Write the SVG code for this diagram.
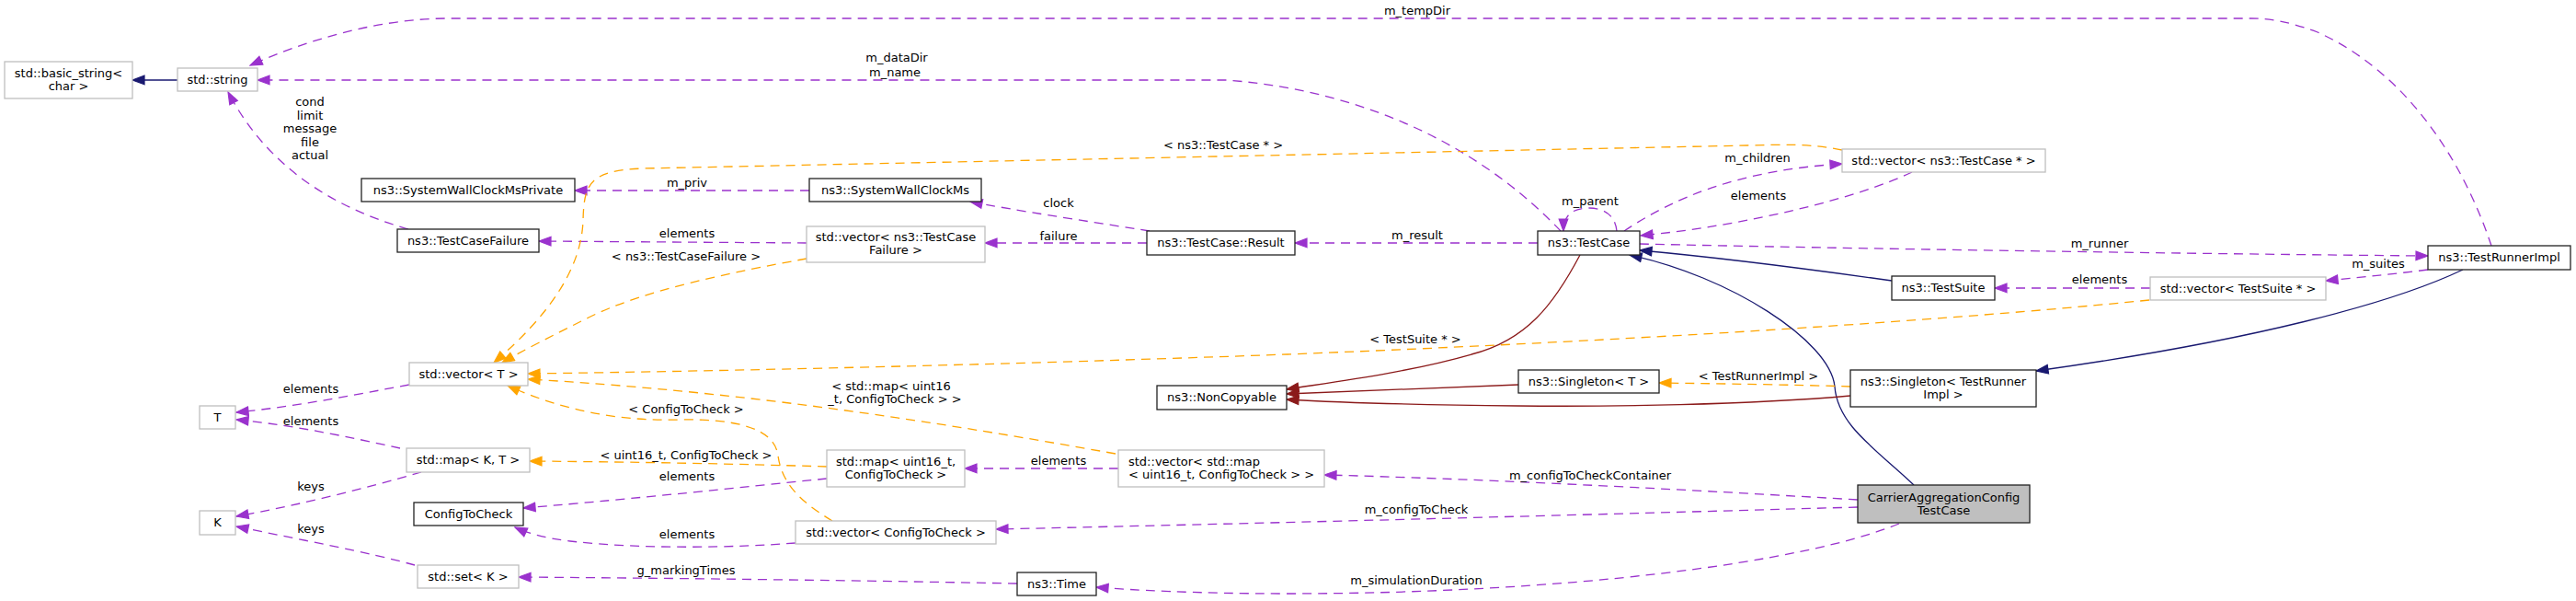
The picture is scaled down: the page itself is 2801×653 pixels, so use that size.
<svg xmlns="http://www.w3.org/2000/svg" width="2801" height="653" viewBox="0 0 2801 653">
<style>
text{font-family:"DejaVu Sans",sans-serif;font-size:13px;fill:#000;text-anchor:middle}
.nb rect{fill:#fff;stroke:#222;stroke-width:1.3}
.ng rect{fill:#fff;stroke:#bfbfbf;stroke-width:1.3}
.nm rect{fill:#bfbfbf;stroke:#222;stroke-width:1.3}
.e path{fill:none;stroke-width:1.3}
.p{stroke:#9a32cd;stroke-dasharray:10,7;marker-end:url(#ap)}
.o{stroke:#ffa500;stroke-dasharray:10,7;marker-end:url(#ao)}
.n{stroke:#191970;marker-end:url(#an)}
.r{stroke:#8b1a1a;marker-end:url(#ar)}
.lt{text-anchor:start}
</style>
<defs>
<marker id="ap" markerUnits="userSpaceOnUse" markerWidth="15" markerHeight="12" viewBox="0 0 15 12" refX="14" refY="6" orient="auto"><path d="M1,1.2 L14,6 L1,10.8 z" fill="#9a32cd" stroke="#9a32cd" stroke-width="1.2"/></marker>
<marker id="ao" markerUnits="userSpaceOnUse" markerWidth="15" markerHeight="12" viewBox="0 0 15 12" refX="14" refY="6" orient="auto"><path d="M1,1.2 L14,6 L1,10.8 z" fill="#ffa500" stroke="#ffa500" stroke-width="1.2"/></marker>
<marker id="an" markerUnits="userSpaceOnUse" markerWidth="15" markerHeight="12" viewBox="0 0 15 12" refX="14" refY="6" orient="auto"><path d="M1,1.2 L14,6 L1,10.8 z" fill="#191970" stroke="#191970" stroke-width="1.2"/></marker>
<marker id="ar" markerUnits="userSpaceOnUse" markerWidth="15" markerHeight="12" viewBox="0 0 15 12" refX="14" refY="6" orient="auto"><path d="M1,1.2 L14,6 L1,10.8 z" fill="#8b1a1a" stroke="#8b1a1a" stroke-width="1.2"/></marker>
</defs>
<rect width="2801" height="653" fill="#fff"/>
<g id="connectors" class="e">
<path class="n" d="M193,87 L144,87"/>
<path class="p" d="M2709,267 C2680,180 2620,80 2520,35 C2490,24 2470,20 2448,20 L487,20 C410,20 330,45 272,71"/>
<text x="1541" y="16">m_tempDir</text>
<path class="p" d="M1697,251 C1620,170 1500,100 1334,87 L280,87"/>
<text x="975" y="67">m_dataDir</text>
<text x="973" y="83">m_name</text>
<path class="p" d="M1758,251 C1756,232 1742,226 1728,226 C1712,226 1700,232 1700,251"/>
<text x="1729" y="223">m_parent</text>
<path class="p" d="M1766,251 C1820,215 1890,185 2003,178"/>
<text x="1911" y="176">m_children</text>
<path class="p" d="M2079,187 C2020,215 1900,245 1784,256"/>
<text x="1912" y="217">elements</text>
<path class="p" d="M1672,264 L1408,264"/>
<text x="1541" y="260">m_result</text>
<path class="p" d="M1783,265 C2000,270 2400,276 2640,278"/>
<text x="2283" y="269">m_runner</text>
<path class="p" d="M1250,251 C1180,240 1100,228 1055,219"/>
<text x="1151" y="225">clock</text>
<path class="p" d="M1247,264 L1071,264"/>
<text x="1151" y="261">failure</text>
<path class="p" d="M880,207 L625,207"/>
<text x="747" y="203">m_priv</text>
<path class="p" d="M877,264 L586,262"/>
<text x="747" y="258">elements</text>
<path class="p" d="M444,249 C360,225 290,180 248,100"/>
<text x="337" y="115">cond</text>
<text x="337" y="129.5">limit</text>
<text x="337" y="144">message</text>
<text x="337" y="158.5">file</text>
<text x="337" y="173">actual</text>
<path class="o" d="M2003,163 C1970,156 1940,157 1900,158 L700,183 C640,185 635,200 634,240 C632,290 600,340 537,394"/>
<text x="1330" y="162">&lt; ns3::TestCase * &gt;</text>
<path class="o" d="M877,281 C800,295 700,315 640,345 C600,365 570,380 546,394"/>
<text x="746" y="283">&lt; ns3::TestCaseFailure &gt;</text>
<path class="o" d="M2337,326 C2200,340 1900,365 1400,385 C1100,396 800,403 574,406"/>
<text x="1539" y="373">&lt; TestSuite * &gt;</text>
<path class="o" d="M1213,493 C1000,455 800,425 574,412"/>
<text x="969" y="424">&lt; std::map&lt; uint16</text>
<text x="973" y="438">_t, ConfigToCheck &gt; &gt;</text>
<path class="o" d="M905,566 C870,545 850,525 846,495 C842,465 800,455 740,456 C670,458 610,445 552,419"/>
<text x="746" y="449">&lt; ConfigToCheck &gt;</text>
<path class="o" d="M899,507 C800,504 700,502 576,501"/>
<text x="746" y="499">&lt; uint16_t, ConfigToCheck &gt;</text>
<path class="p" d="M899,520 C800,530 700,541 569,552"/>
<text x="747" y="522">elements</text>
<path class="p" d="M865,590 C800,595 700,597 620,588 C595,585 575,580 560,573"/>
<text x="747" y="585">elements</text>
<path class="p" d="M445,418 C380,430 320,442 257,448"/>
<text x="338" y="427">elements</text>
<path class="p" d="M435,487 C380,475 320,462 257,456"/>
<text x="338" y="462">elements</text>
<path class="p" d="M458,513 C400,530 320,550 257,561"/>
<text x="338" y="533">keys</text>
<path class="p" d="M451,614 C400,600 320,585 257,572"/>
<text x="338" y="579">keys</text>
<path class="p" d="M1106,634 C900,630 700,628 564,627"/>
<text x="746" y="624">g_markingTimes</text>
<path class="p" d="M1216,509 L1049,509"/>
<text x="1151" y="505">elements</text>
<path class="p" d="M2020,543 C1800,530 1600,520 1440,516"/>
<text x="1729" y="521">m_configToCheckContainer</text>
<path class="p" d="M2020,551 C1700,560 1400,568 1083,575"/>
<text x="1540" y="558">m_configToCheck</text>
<path class="p" d="M2065,569 C1960,612 1700,645 1400,645 C1300,645 1230,641 1192,638"/>
<text x="1540" y="635">m_simulationDuration</text>
<path class="n" d="M2057,305 C1950,290 1850,278 1783,272"/>
<path class="n" d="M2081,527 C2040,488 1998,462 1995,420 C1990,370 1880,300 1772,277"/>
<path class="n" d="M2678,293 C2600,330 2450,370 2214,403"/>
<path class="r" d="M1718,277 C1690,330 1660,370 1600,385 C1530,405 1450,415 1399,423"/>
<path class="r" d="M1651,418 L1399,428"/>
<path class="r" d="M2012,430 C1900,440 1750,442 1650,441 C1550,440 1450,437 1399,434"/>
<path class="o" d="M2012,420 C1950,418 1880,417 1804,416"/>
<text x="1912" y="413">&lt; TestRunnerImpl &gt;</text>
<path class="p" d="M2640,293 C2600,298 2570,301 2529,305"/>
<text x="2586" y="291">m_suites</text>
<path class="p" d="M2338,313 L2169,313"/>
<text x="2283" y="308">elements</text>
</g>
<g id="n_basic_string" class="ng"><rect x="5" y="67" width="139" height="40"/><text x="74.5" y="83.5">std::basic_string&lt;</text><text x="74.5" y="97.5">char &gt;</text></g>
<g id="n_string" class="ng"><rect x="193" y="74" width="87" height="25"/><text x="236.5" y="91">std::string</text></g>
<g id="n_swcm_private" class="nb"><rect x="393" y="194" width="232" height="25"/><text x="509" y="211">ns3::SystemWallClockMsPrivate</text></g>
<g id="n_testcasefailure" class="nb"><rect x="432" y="249" width="154" height="25"/><text x="509" y="266">ns3::TestCaseFailure</text></g>
<g id="n_swcm" class="nb"><rect x="880" y="194" width="187" height="25"/><text x="973.5" y="211">ns3::SystemWallClockMs</text></g>
<g id="n_vec_tcf" class="ng"><rect x="877" y="246" width="194" height="39"/><text x="974" y="261.5">std::vector&lt; ns3::TestCase</text><text x="974" y="276">Failure &gt;</text></g>
<g id="n_result" class="nb"><rect x="1247" y="251" width="161" height="26"/><text x="1327.5" y="268">ns3::TestCase::Result</text></g>
<g id="n_testcase" class="nb"><rect x="1672" y="251" width="111" height="26"/><text x="1727.5" y="268">ns3::TestCase</text></g>
<g id="n_vec_tc" class="ng"><rect x="2003" y="162" width="221" height="25"/><text x="2113.5" y="179">std::vector&lt; ns3::TestCase * &gt;</text></g>
<g id="n_testrunnerimpl" class="nb"><rect x="2640" y="267" width="155" height="26"/><text x="2717.5" y="284">ns3::TestRunnerImpl</text></g>
<g id="n_testsuite" class="nb"><rect x="2057" y="300" width="112" height="26"/><text x="2113" y="317">ns3::TestSuite</text></g>
<g id="n_vec_ts" class="ng"><rect x="2338" y="301" width="191" height="25"/><text x="2433.5" y="318">std::vector&lt; TestSuite * &gt;</text></g>
<g id="n_vec_t" class="ng"><rect x="445" y="394" width="129" height="25"/><text x="509.5" y="411">std::vector&lt; T &gt;</text></g>
<g id="n_t" class="ng"><rect x="217" y="441" width="39" height="25"/><text x="236.5" y="458">T</text></g>
<g id="n_map_kt" class="ng"><rect x="442" y="487" width="134" height="26"/><text x="509" y="504">std::map&lt; K, T &gt;</text></g>
<g id="n_k" class="ng"><rect x="217" y="555" width="39" height="26"/><text x="236.5" y="572">K</text></g>
<g id="n_configtocheck" class="nb"><rect x="450" y="546" width="119" height="25"/><text x="509.5" y="563">ConfigToCheck</text></g>
<g id="n_set_k" class="ng"><rect x="454" y="614" width="110" height="25"/><text x="509" y="631">std::set&lt; K &gt;</text></g>
<g id="n_noncopyable" class="nb"><rect x="1258" y="419" width="141" height="26"/><text x="1328.5" y="436">ns3::NonCopyable</text></g>
<g id="n_singleton_t" class="nb"><rect x="1651" y="402" width="153" height="25"/><text x="1727.5" y="419">ns3::Singleton&lt; T &gt;</text></g>
<g id="n_singleton_tri" class="nb"><rect x="2012" y="402" width="202" height="40"/><text x="2113" y="419">ns3::Singleton&lt; TestRunner</text><text x="2113" y="433">Impl &gt;</text></g>
<g id="n_map_u16" class="ng"><rect x="899" y="489" width="150" height="40"/><text x="974" y="505.5">std::map&lt; uint16_t,</text><text x="974" y="519.5">ConfigToCheck &gt;</text></g>
<g id="n_vec_map" class="ng"><rect x="1216" y="489" width="224" height="40"/><text class="lt" x="1227" y="505.5">std::vector&lt; std::map</text><text class="lt" x="1227" y="519.5">&lt; uint16_t, ConfigToCheck &gt; &gt;</text></g>
<g id="n_vec_ctc" class="ng"><rect x="865" y="566" width="218" height="25"/><text x="974" y="583">std::vector&lt; ConfigToCheck &gt;</text></g>
<g id="n_time" class="nb"><rect x="1106" y="622" width="86" height="25"/><text x="1149" y="639">ns3::Time</text></g>
<g id="n_carrieragg" class="nm"><rect x="2020" y="527" width="187" height="41"/><text x="2113.5" y="545">CarrierAggregationConfig</text><text x="2113.5" y="559">TestCase</text></g>
</svg>
